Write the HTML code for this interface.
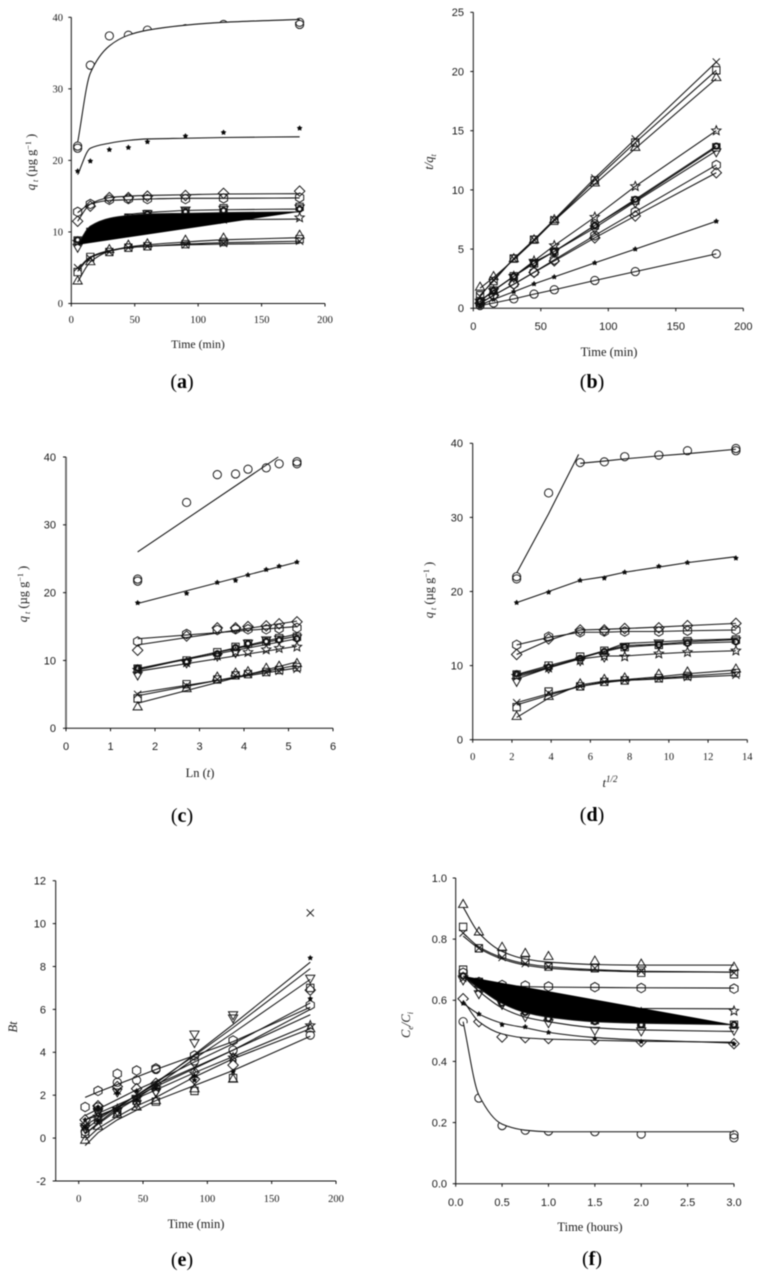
<!DOCTYPE html>
<html lang="en">
<head>
<meta charset="utf-8">
<title>Adsorption kinetics charts</title>
<style>
html,body{margin:0;padding:0;background:#fff;}
body{width:761px;height:1276px;overflow:hidden;}
svg{display:block;filter:blur(0.4px);}
text{fill:#1a1a1a;font-family:"Liberation Serif",serif;}
.sans{font-family:"Liberation Sans",sans-serif;}
.title{font-size:12.5px;}
.title-small{font-size:11.8px;}
.cap{font-size:20px;fill:#000;}
</style>
</head>
<body>
<svg id="figure" xmlns="http://www.w3.org/2000/svg" width="761" height="1276" viewBox="0 0 761 1276">
  <g>
    <text class="title-small" x="198" y="348" text-anchor="middle">Time (min)</text>
    <text class="title" transform="translate(35,162) rotate(-90)" text-anchor="middle"><tspan font-style="italic">q</tspan><tspan dy="3" font-size="8" font-style="italic"> t</tspan><tspan dy="-3"> (µg g</tspan><tspan dy="-4" font-size="8">−1</tspan><tspan dy="4"> )</tspan></text>
    <text class="cap" x="182" y="388" text-anchor="middle">(<tspan font-weight="bold">a</tspan>)</text>
  </g>
  <g>
    <text class="title" x="609" y="356" text-anchor="middle">Time (min)</text>
    <text class="title" transform="translate(433,162) rotate(-90)" text-anchor="middle"><tspan font-style="italic">t/q</tspan><tspan dy="3" font-size="8" font-style="italic">t</tspan></text>
    <text class="cap" x="592" y="388" text-anchor="middle">(<tspan font-weight="bold">b</tspan>)</text>
  </g>
  <g>
    <text class="title" x="200" y="777" text-anchor="middle">Ln (<tspan font-style="italic">t</tspan>)</text>
    <text class="title" transform="translate(27,594) rotate(-90)" text-anchor="middle"><tspan font-style="italic">q</tspan><tspan dy="3" font-size="8" font-style="italic"> t</tspan><tspan dy="-3"> (µg g</tspan><tspan dy="-4" font-size="8">−1</tspan><tspan dy="4"> )</tspan></text>
    <text class="cap" x="182" y="822" text-anchor="middle">(<tspan font-weight="bold">c</tspan>)</text>
  </g>
  <g>
    <text class="title" x="610" y="787" text-anchor="middle"><tspan font-style="italic">t</tspan><tspan dy="-5" font-size="9" font-style="italic">1/2</tspan></text>
    <text class="title" transform="translate(433,590) rotate(-90)" text-anchor="middle"><tspan font-style="italic">q</tspan><tspan dy="3" font-size="8" font-style="italic"> t</tspan><tspan dy="-3"> (µg g</tspan><tspan dy="-4" font-size="8">−1</tspan><tspan dy="4"> )</tspan></text>
    <text class="cap" x="592" y="821" text-anchor="middle">(<tspan font-weight="bold">d</tspan>)</text>
  </g>
  <g>
    <text class="title" x="196" y="1228" text-anchor="middle">Time (min)</text>
    <text class="title" transform="translate(17,1027) rotate(-90)" text-anchor="middle" font-style="italic">Bt</text>
    <text class="cap" x="182" y="1266" text-anchor="middle">(<tspan font-weight="bold">e</tspan>)</text>
  </g>
  <g>
    <text class="title" x="590" y="1231" text-anchor="middle">Time (hours)</text>
    <text class="title" transform="translate(410,1025) rotate(-90)" text-anchor="middle"><tspan font-style="italic">C</tspan><tspan dy="3" font-size="8" font-style="italic">e</tspan><tspan dy="-3" font-style="italic">/C</tspan><tspan dy="3" font-size="8" font-style="italic">i</tspan></text>
    <text class="cap" x="592" y="1265" text-anchor="middle">(<tspan font-weight="bold">f</tspan>)</text>
  </g>
</svg>
<script>
// x values
const timeMin = [5, 15, 30, 45, 60, 90, 120, 180];
const lnTime = [1.61, 2.71, 3.4, 3.81, 4.09, 4.5, 4.79, 5.19];
const sqrtTime = [2.24, 3.87, 5.48, 6.71, 7.75, 9.49, 10.95, 13.42];
const timeHours = [0.08, 0.25, 0.5, 0.75, 1, 1.5, 2, 3];

// tick labels
const minTicks = ['0', '50', '100', '150', '200'];
const qTicks = ['0', '10', '20', '30', '40'];
const bYTicks = ['0', '5', '10', '15', '20', '25'];
const cXTicks = ['0', '1', '2', '3', '4', '5', '6'];
const dXTicks = ['0', '2', '4', '6', '8', '10', '12', '14'];
const eYTicks = ['-2', '0', '2', '4', '6', '8', '10', '12'];
const fXTicks = ['0.0', '0.5', '1.0', '1.5', '2.0', '2.5', '3.0'];
const fYTicks = ['0.0', '0.2', '0.4', '0.6', '0.8', '1.0'];

// adsorbed amount q (panels a, c, d)
const qCircleA = [22, 33.3, 37.4, 37.5, 38.2, 38.4, 39, 39.3];
const qCircleB = [21.7, null, null, null, null, null, null, 39];
const qPlus = [18.5, 19.9, 21.5, 21.8, 22.6, 23.4, 23.9, 24.5];
const qDiamond = [11.5, 13.6, 14.8, 14.8, 15, 15.1, 15.4, 15.7];
const qHexagon = [12.8, 13.9, 14.5, 14.6, 14.6, 14.6, 14.7, 14.8];
const qDown = [8, 9.8, 10.8, 11.3, 12.7, 13.2, 13.3, 13.5];
const qSquareUpper = [8.8, 10, 11.2, 12, 12.5, 12.8, 13.3, 13.5];
const qRing = [8.9, 9.8, 11, 11.9, 12.5, 12.8, 13, 13.2];
const qStar = [8.6, 9.7, 10.7, 11.3, 11.2, 11.6, 11.8, 12];
const qTriangle = [3, 5.7, 7.4, 8, 8.2, 8.7, 9, 9.4];
const qSquareLower = [4.4, 6.5, 7.2, 7.8, 8, 8.3, 8.6, 9];
const qCross = [5, 6.3, 7.2, 7.8, 8, 8.2, 8.4, 8.7];

// panel a fits
const aFitCircle = [22.5, 32.2, 36, 37.5, 38.2, 38.9, 39.3, 39.7];
const aFitPlus = [18, 21.7, 22.4, 22.8, 23, 23.1, 23.2, 23.3];
const aFitDiamond = [11.5, 13.9, 14.8, 15, 15.1, 15.2, 15.3, 15.35];
const aFitHexagon = [12.7, 13.9, 14.4, 14.5, 14.6, 14.7, 14.7, 14.75];
const aFitDownX = [42, 60, 90, 120, 180];
const aFitDown = [12.4, 12.7, 13, 13.1, 13.2];
const aFitRing = [8.2, 10.8, 11.9, 12.3, 12.5, 12.6, 12.7, 12.8];
const aFitStar = [8.5, 10.2, 11, 11.3, 11.45, 11.6, 11.7, 11.8];
const aFitTriangle = [3, 5.8, 7.3, 7.9, 8.2, 8.6, 8.9, 9.2];
const aFitSquare = [4.5, 6.4, 7.3, 7.8, 8, 8.3, 8.5, 8.7];
const aFitCross = [4.8, 6.5, 7.4, 7.8, 8, 8.2, 8.3, 8.4];

// panel b t/q values
const bCross = [1, 2.4, 4.2, 5.8, 7.5, 11, 14.3, 20.8];
const bSquare = [1.1, 2.3, 4.2, 5.8, 7.4, 10.8, 14, 20.1];
const bTriangle = [1.7, 2.6, 4.1, 5.7, 7.4, 10.5, 13.5, 19.4];
const bStar = [0.6, 1.5, 2.7, 4, 5.3, 7.7, 10.3, 15];
const bDown = [0.6, 1.5, 2.7, 3.9, 4.8, 6.8, 9, 13.3];
const bSquareUpper = [0.6, 1.5, 2.7, 3.8, 4.8, 7, 9.1, 13.6];
const bRing = [0.6, 1.5, 2.7, 3.8, 4.8, 7, 9.2, 13.7];
const bHexagon = [0.4, 1.1, 2.05, 3.05, 4.1, 6.15, 8.15, 12.1];
const bDiamond = [0.43, 1.1, 2.03, 3.03, 4, 5.95, 7.8, 11.45];
const bPlus = [0.27, 0.75, 1.4, 2.06, 2.65, 3.84, 5, 7.35];
const bCircle = [0.23, 0.45, 0.8, 1.2, 1.57, 2.35, 3.1, 4.6];

// panel c straight-line fits (x endpoints and y endpoints)
const cFitX = [1.61, 5.19];
const cFitCircleX = [1.61, 4.77];
const cFitCircle = [26, 40];
const cFitPlus = [18.4, 24.5];
const cFitDiamond = [12.3, 15.8];
const cFitHexagon = [13.2, 15];
const cFitDown = [8.6, 13.9];
const cFitSquareUpper = [8.8, 13.6];
const cFitRing = [8.8, 13.2];
const cFitStar = [8.4, 12.1];
const cFitTriangle = [3.7, 9.8];
const cFitSquareLower = [4.8, 9.3];
const cFitCross = [5.2, 8.9];

// panel d piecewise fits
const dRiseX = [2.24, 3.87, 5.4];
const dRiseCircle = [22.5, 30.5, 38.5];
const dFlatX = [5.48, 6.71, 7.75, 9.49, 10.95, 13.42];
const dFlatCircle = [37.3, 37.6, 37.9, 38.3, 38.6, 39.2];
const dFitPlus = [18.5, 20, 21.5, 22, 22.6, 23.3, 23.9, 24.7];
const dFitDiamond = [11.5, 13.4, 14.8, 14.9, 15, 15.2, 15.4, 15.7];
const dFitHexagon = [12.8, 13.8, 14.5, 14.5, 14.6, 14.6, 14.7, 14.8];
const dFitDown = [8.2, 9.7, 11, 12, 13, 13.2, 13.4, 13.6];
const dFitSquareUpper = [8.8, 10, 11.1, 12, 12.7, 12.9, 13.2, 13.5];
const dFitRing = [8.7, 9.8, 11, 11.9, 12.5, 12.8, 13, 13.2];
const dFitStar = [8.5, 9.7, 10.9, 11.3, 11.3, 11.6, 11.8, 12];
const dFitTriangle = [3, 5.6, 7.4, 7.9, 8.1, 8.5, 8.9, 9.4];
const dFitSquareLower = [4.7, 6, 7.2, 7.7, 8, 8.3, 8.6, 9];
const dFitCross = [5, 6.2, 7.2, 7.8, 8, 8.2, 8.4, 8.7];

// panel e Bt values
const eCross = [0.5, 1.3, 2.2, 1.8, 2.4, 3.3, 3.8, 10.5];
const ePlus = [0.85, 1.45, 2.1, 2.2, 2.5, 2.7, 3.1, 8.4];
const eDownA = [0.5, 1.25, 2.2, 1.9, 2.2, 4.9, 5.8, 7.5];
const eDownB = [0.5, 1.3, 1.3, 1.65, 2.2, 4.5, 5.65, null];
const eSquare = [0.2, 0.85, 1.2, 1.75, 1.7, 2.2, 2.8, 7];
const eDiamond = [0.85, 1.5, 2.4, 2.3, 2.55, 2.75, 3.4, 6.9];
const eHexagon = [1.45, 2.2, 3, 3.15, 3.25, 3.85, 4.55, 6.2];
const eCircle = [0.3, 1.45, 2.6, 2.7, 3.2, 3.6, 4.1, 4.8];
const eStar = [0.6, 1, 1.35, 1.85, 2.35, 3, 3.75, 5.25];
const eTriangle = [-0.15, 0.5, 1.05, 1.4, 1.7, 2.25, 2.7, 5.05];
const eSmallDot = [0.5, 0.8, 1.3, 1.8, 2.3, 2.9, 3.1, 6.5];
const eFitHexagon = [1.9, 2.15, 2.5, 2.85, 3.2, 3.85, 4.5, 6.1];
const eFitCircle = [1.05, 1.35, 1.8, 2.25, 2.65, 3.55, 4.4, 6.3];
const eFitDiamond = [0.85, 1.15, 1.55, 1.95, 2.4, 3.25, 4.1, 5.75];
const eFitPlus = [0.2, 0.7, 1.4, 2, 2.55, 3.9, 5.3, 8.2];
const eFitCross = [0.4, 0.85, 1.45, 2, 2.6, 3.85, 5.15, 7.9];
const eFitDown = [0.2, 0.65, 1.3, 1.85, 2.45, 3.7, 4.9, 7.4];
const eFitStar = [0.85, 1.05, 1.4, 1.85, 2.25, 3.05, 3.8, 5.3];
const eFitTriangle = [-0.1, 0.45, 1, 1.5, 1.9, 2.85, 3.7, 5.1];
const eFitSquare = [-0.35, 0.25, 0.85, 1.3, 1.75, 2.45, 3.15, 4.75];
const eFitDot = [0.6, 0.95, 1.45, 2, 2.5, 3.3, 4.1, 6];

// panel f Ce/Ci values
const fTriangle = [0.91, 0.82, 0.77, 0.75, 0.74, 0.725, 0.715, 0.705];
const fSquare = [0.84, 0.77, 0.75, 0.73, 0.71, 0.705, 0.69, 0.685];
const fCross = [0.82, 0.77, 0.74, 0.72, 0.71, 0.705, 0.695, 0.69];
const fHexagon = [0.69, 0.66, 0.65, 0.648, 0.645, 0.643, 0.64, 0.638];
const fSquareUpper = [0.7, 0.66, 0.6, 0.57, 0.55, 0.535, 0.525, 0.52];
const fRing = [0.68, 0.65, 0.59, 0.56, 0.54, 0.53, 0.52, 0.52];
const fStar = [0.675, 0.64, 0.6, 0.585, 0.58, 0.57, 0.56, 0.565];
const fDown = [0.67, 0.625, 0.59, 0.55, 0.53, 0.505, 0.503, 0.505];
const fPlus = [0.59, 0.555, 0.52, 0.513, 0.495, 0.475, 0.465, 0.457];
const fDiamond = [0.605, 0.53, 0.48, 0.478, 0.475, 0.472, 0.465, 0.458];
const fCircleA = [0.53, 0.28, 0.19, 0.175, 0.172, 0.17, 0.162, 0.16];
const fCircleB = [null, null, null, null, null, null, null, 0.15];
const fFitTriangle = [0.905, 0.82, 0.76, 0.735, 0.725, 0.717, 0.715, 0.715];
const fFitSquare = [0.82, 0.775, 0.74, 0.72, 0.71, 0.7, 0.695, 0.692];
const fFitCross = [0.81, 0.77, 0.735, 0.715, 0.705, 0.697, 0.693, 0.692];
const fFitHexagon = [0.675, 0.66, 0.65, 0.645, 0.643, 0.642, 0.641, 0.64];
const fFitRing = [0.68, 0.64, 0.59, 0.56, 0.545, 0.53, 0.525, 0.52];
const fFitStar = [0.68, 0.64, 0.605, 0.59, 0.58, 0.575, 0.573, 0.572];
const fFitDown = [0.68, 0.63, 0.575, 0.545, 0.53, 0.51, 0.503, 0.498];
const fFitPlus = [0.59, 0.555, 0.525, 0.51, 0.495, 0.478, 0.47, 0.46];
const fFitDiamond = [0.6, 0.53, 0.49, 0.477, 0.473, 0.469, 0.466, 0.463];
const fFitCircle = [0.53, 0.29, 0.195, 0.175, 0.17, 0.17, 0.17, 0.17];

const NS = 'http://www.w3.org/2000/svg';
const INK = '#111';
const figure = document.getElementById('figure');

function polygonPoints(cx, cy, r, sides, startDeg) {
  const pts = [];
  for (let i = 0; i < sides; i++) {
    const a = (startDeg + i * 360 / sides) * Math.PI / 180;
    pts.push((cx + r * Math.cos(a)).toFixed(2) + ',' + (cy + r * Math.sin(a)).toFixed(2));
  }
  return pts.join(' ');
}

function starPoints(cx, cy, outer, inner) {
  const pts = [];
  for (let i = 0; i < 10; i++) {
    const r = i % 2 ? inner : outer;
    const a = (-90 + i * 36) * Math.PI / 180;
    pts.push((cx + r * Math.cos(a)).toFixed(2) + ',' + (cy + r * Math.sin(a)).toFixed(2));
  }
  return pts.join(' ');
}

function drawMarker(parent, kind, cx, cy, label) {
  let el;
  if (kind === 'circle') {
    el = document.createElementNS(NS, 'circle');
    el.setAttribute('cx', cx);
    el.setAttribute('cy', cy);
    el.setAttribute('r', 4.1);
  } else if (kind === 'ring') {
    el = document.createElementNS(NS, 'circle');
    el.setAttribute('cx', cx);
    el.setAttribute('cy', cy);
    el.setAttribute('r', 2.6);
  } else if (kind === 'cross') {
    el = document.createElementNS(NS, 'path');
    el.setAttribute('d', 'M' + (cx - 3.6) + ' ' + (cy - 3.6) + 'L' + (cx + 3.6) + ' ' + (cy + 3.6) + 'M' + (cx - 3.6) + ' ' + (cy + 3.6) + 'L' + (cx + 3.6) + ' ' + (cy - 3.6));
  } else {
    el = document.createElementNS(NS, 'polygon');
    let pts = '';
    if (kind === 'hexagon') pts = polygonPoints(cx, cy, 4.7, 6, 30);
    if (kind === 'diamond') pts = polygonPoints(cx, cy, 5.2, 4, 0);
    if (kind === 'square') pts = polygonPoints(cx, cy, 5.2, 4, 45);
    if (kind === 'triangle') pts = polygonPoints(cx, cy - 0.7, 5.3, 3, -90);
    if (kind === 'down') pts = polygonPoints(cx, cy + 0.7, 5.3, 3, 90);
    if (kind === 'star') pts = starPoints(cx, cy, 4.9, 2.2);
    if (kind === 'plus') pts = starPoints(cx, cy, 2.1, 1.2);
    el.setAttribute('points', pts);
  }
  
  
  el.setAttribute('stroke', INK);
  el.setAttribute('stroke-width', kind === 'ring' ? 2 : 0.95);
  el.setAttribute('fill', kind === 'plus' ? '#000' : kind === 'ring' ? '#fff' : 'none');
  parent.appendChild(el);
}

function linePath(pts) {
  return pts.map((p, i) => (i ? 'L' : 'M') + p[0].toFixed(2) + ' ' + p[1].toFixed(2)).join('');
}

// Monotone cubic path through fit points so the fit curves stay smooth without overshoot.
function smoothPath(pts) {
  const n = pts.length;
  const d = [];
  const m = [];
  for (let i = 0; i < n - 1; i++) d.push((pts[i + 1][1] - pts[i][1]) / (pts[i + 1][0] - pts[i][0]));
  m.push(d[0]);
  for (let i = 1; i < n - 1; i++) m.push(d[i - 1] * d[i] <= 0 ? 0 : 2 * d[i - 1] * d[i] / (d[i - 1] + d[i]));
  m.push(d[n - 2]);
  let out = 'M' + pts[0][0].toFixed(2) + ' ' + pts[0][1].toFixed(2);
  for (let i = 0; i < n - 1; i++) {
    const h = (pts[i + 1][0] - pts[i][0]) / 3;
    out += 'C' + (pts[i][0] + h).toFixed(2) + ' ' + (pts[i][1] + m[i] * h).toFixed(2) + ' ' + (pts[i + 1][0] - h).toFixed(2) + ' ' + (pts[i + 1][1] - m[i + 1] * h).toFixed(2) + ' ' + pts[i + 1][0].toFixed(2) + ' ' + pts[i + 1][1].toFixed(2);
  }
  return out;
}

function drawFit(group, d, fill, label) {
  if (fill) {
    const area = document.createElementNS(NS, 'path');
    area.setAttribute('d', d + 'Z');
    area.setAttribute('fill', fill);
    area.setAttribute('stroke', 'none');
    
    
    group.appendChild(area);
  }
  const line = document.createElementNS(NS, 'path');
  line.setAttribute('d', d);
  line.setAttribute('fill', 'none');
  line.setAttribute('stroke', INK);
  line.setAttribute('stroke-width', 1.05);
  
  
  group.appendChild(line);
}

function addLine(parent, x1, y1, x2, y2, color, width, label) {
  const l = document.createElementNS(NS, 'line');
  l.setAttribute('x1', x1);
  l.setAttribute('y1', y1);
  l.setAttribute('x2', x2);
  l.setAttribute('y2', y2);
  l.setAttribute('stroke', color);
  l.setAttribute('stroke-width', width);
  
  
  parent.appendChild(l);
}

function addTickLabel(parent, x, y, str, anchor, font, size, label) {
  const t = document.createElementNS(NS, 'text');
  t.setAttribute('x', x);
  t.setAttribute('y', y);
  t.setAttribute('text-anchor', anchor);
  t.setAttribute('font-size', size);
  if (font === 'sans') t.setAttribute('class', 'sans');
  
  
  t.textContent = str;
  parent.appendChild(t);
}

function drawPanel(cfg) {
  const g = document.createElementNS(NS, 'g');
  
  
  figure.appendChild(g);
  const sx = v => cfg.x0 + v * (cfg.x1 - cfg.x0) / cfg.xMax;
  const sy = v => cfg.y0 + (v - cfg.yMin) * (cfg.y1 - cfg.y0) / (cfg.yMax - cfg.yMin);

  cfg.series.forEach(s => {
    const sg = document.createElementNS(NS, 'g');
    
    
    g.appendChild(sg);
    s.values.forEach((v, i) => {
      if (v === null) return;
      drawMarker(sg, s.marker, sx(cfg.xs[i]), sy(v), 'point-' + cfg.id + '-' + s.name);
    });
    (s.fits || []).forEach(f => {
      const fx = f.x || cfg.xs;
      const pts = f.y.map((v, i) => [sx(fx[i]), sy(v)]);
      drawFit(sg, cfg.smooth ? smoothPath(pts) : linePath(pts), f.fill, 'fit-' + cfg.id + '-' + s.name);
    });
  });

  const left = cfg.axisX === undefined ? cfg.x0 : cfg.axisX;
  addLine(g, left, cfg.y0, left, cfg.y1, cfg.yAxisColor || INK, cfg.yAxisWidth || 1, 'y-axis-' + cfg.id);
  addLine(g, left, cfg.y0, cfg.x1, cfg.y0, INK, 1, 'x-axis-' + cfg.id);
  cfg.xTicks.forEach(lbl => {
    const x = sx(Number(lbl));
    addLine(g, x, cfg.y0, x, cfg.y0 + 3, INK, 1, 'x-tick-' + cfg.id);
    addTickLabel(g, x, cfg.xLabelY, lbl, 'middle', cfg.xFont, cfg.xSize, 'x-tick-label-' + cfg.id);
  });
  cfg.yTicks.forEach(lbl => {
    const y = sy(Number(lbl));
    addLine(g, left - 3, y, left, y, INK, 1, 'y-tick-' + cfg.id);
    addTickLabel(g, cfg.yLabelX, y + cfg.ySize * 0.35, lbl, 'end', cfg.yFont, cfg.ySize, 'y-tick-label-' + cfg.id);
  });
}

drawPanel({
  id: 'a', x0: 71.3, x1: 325, xMax: 200, y0: 303.5, y1: 17.3, yMin: 0, yMax: 40,
  xs: timeMin, smooth: true, xTicks: minTicks, yTicks: qTicks,
  xLabelY: 323, xFont: 'serif', xSize: 10.5, yLabelX: 63, yFont: 'serif', ySize: 10.5,
  series: [
    { name: 'circle-a', marker: 'circle', values: qCircleA, fits: [{ y: aFitCircle, fill: '#fff' }] },
    { name: 'circle-b', marker: 'circle', values: qCircleB },
    { name: 'plus', marker: 'plus', values: qPlus, fits: [{ y: aFitPlus }] },
    { name: 'diamond', marker: 'diamond', values: qDiamond, fits: [{ y: aFitDiamond }] },
    { name: 'hexagon', marker: 'hexagon', values: qHexagon, fits: [{ y: aFitHexagon }] },
    { name: 'star', marker: 'star', values: qStar, fits: [{ y: aFitStar }] },
    { name: 'down-triangle', marker: 'down', values: qDown, fits: [{ x: aFitDownX, y: aFitDown }] },
    { name: 'square-upper', marker: 'square', values: qSquareUpper },
    { name: 'triangle', marker: 'triangle', values: qTriangle, fits: [{ y: aFitTriangle }] },
    { name: 'square-lower', marker: 'square', values: qSquareLower, fits: [{ y: aFitSquare }] },
    { name: 'cross', marker: 'cross', values: qCross, fits: [{ y: aFitCross }] },
    { name: 'ring', marker: 'ring', values: qRing, fits: [{ y: aFitRing, fill: '#000' }] }
  ]
});

drawPanel({
  id: 'b', x0: 473.3, x1: 743.3, xMax: 200, y0: 308.3, y1: 12.3, yMin: 0, yMax: 25,
  xs: timeMin, smooth: false, xTicks: minTicks, yTicks: bYTicks,
  xLabelY: 330, xFont: 'sans', xSize: 11, yLabelX: 464, yFont: 'sans', ySize: 11,
  series: [
    { name: 'cross', marker: 'cross', values: bCross, fits: [{ y: bCross }] },
    { name: 'square', marker: 'square', values: bSquare, fits: [{ y: bSquare }] },
    { name: 'triangle', marker: 'triangle', values: bTriangle, fits: [{ y: bTriangle }] },
    { name: 'star', marker: 'star', values: bStar, fits: [{ y: bStar }] },
    { name: 'down-triangle', marker: 'down', values: bDown, fits: [{ y: bDown }] },
    { name: 'square-upper', marker: 'square', values: bSquareUpper, fits: [{ y: bSquareUpper }] },
    { name: 'ring', marker: 'ring', values: bRing, fits: [{ y: bRing }] },
    { name: 'hexagon', marker: 'hexagon', values: bHexagon, fits: [{ y: bHexagon }] },
    { name: 'diamond', marker: 'diamond', values: bDiamond, fits: [{ y: bDiamond }] },
    { name: 'plus', marker: 'plus', values: bPlus, fits: [{ y: bPlus }] },
    { name: 'circle', marker: 'circle', values: bCircle, fits: [{ y: bCircle }] }
  ]
});

drawPanel({
  id: 'c', x0: 66, x1: 333, xMax: 6, y0: 728.3, y1: 457, yMin: 0, yMax: 40,
  xs: lnTime, smooth: false, xTicks: cXTicks, yTicks: qTicks, yAxisColor: '#777', yAxisWidth: 2,
  xLabelY: 750, xFont: 'sans', xSize: 11, yLabelX: 56, yFont: 'sans', ySize: 11,
  series: [
    { name: 'circle-a', marker: 'circle', values: qCircleA, fits: [{ x: cFitCircleX, y: cFitCircle }] },
    { name: 'circle-b', marker: 'circle', values: qCircleB },
    { name: 'plus', marker: 'plus', values: qPlus, fits: [{ x: cFitX, y: cFitPlus }] },
    { name: 'diamond', marker: 'diamond', values: qDiamond, fits: [{ x: cFitX, y: cFitDiamond }] },
    { name: 'hexagon', marker: 'hexagon', values: qHexagon, fits: [{ x: cFitX, y: cFitHexagon }] },
    { name: 'down-triangle', marker: 'down', values: qDown, fits: [{ x: cFitX, y: cFitDown }] },
    { name: 'square-upper', marker: 'square', values: qSquareUpper, fits: [{ x: cFitX, y: cFitSquareUpper }] },
    { name: 'ring', marker: 'ring', values: qRing, fits: [{ x: cFitX, y: cFitRing }] },
    { name: 'star', marker: 'star', values: qStar, fits: [{ x: cFitX, y: cFitStar }] },
    { name: 'triangle', marker: 'triangle', values: qTriangle, fits: [{ x: cFitX, y: cFitTriangle }] },
    { name: 'square-lower', marker: 'square', values: qSquareLower, fits: [{ x: cFitX, y: cFitSquareLower }] },
    { name: 'cross', marker: 'cross', values: qCross, fits: [{ x: cFitX, y: cFitCross }] }
  ]
});

drawPanel({
  id: 'd', x0: 472.7, x1: 747.3, xMax: 14, y0: 739.7, y1: 443.3, yMin: 0, yMax: 40,
  xs: sqrtTime, smooth: false, xTicks: dXTicks, yTicks: qTicks,
  xLabelY: 760, xFont: 'serif', xSize: 10.5, yLabelX: 463, yFont: 'sans', ySize: 11,
  series: [
    { name: 'circle-a', marker: 'circle', values: qCircleA, fits: [{ x: dRiseX, y: dRiseCircle }, { x: dFlatX, y: dFlatCircle }] },
    { name: 'circle-b', marker: 'circle', values: qCircleB },
    { name: 'plus', marker: 'plus', values: qPlus, fits: [{ y: dFitPlus }] },
    { name: 'diamond', marker: 'diamond', values: qDiamond, fits: [{ y: dFitDiamond }] },
    { name: 'hexagon', marker: 'hexagon', values: qHexagon, fits: [{ y: dFitHexagon }] },
    { name: 'down-triangle', marker: 'down', values: qDown, fits: [{ y: dFitDown }] },
    { name: 'square-upper', marker: 'square', values: qSquareUpper, fits: [{ y: dFitSquareUpper }] },
    { name: 'ring', marker: 'ring', values: qRing, fits: [{ y: dFitRing }] },
    { name: 'star', marker: 'star', values: qStar, fits: [{ y: dFitStar }] },
    { name: 'triangle', marker: 'triangle', values: qTriangle, fits: [{ y: dFitTriangle }] },
    { name: 'square-lower', marker: 'square', values: qSquareLower, fits: [{ y: dFitSquareLower }] },
    { name: 'cross', marker: 'cross', values: qCross, fits: [{ y: dFitCross }] }
  ]
});

drawPanel({
  id: 'e', x0: 78.7, x1: 336, xMax: 200, axisX: 55.7, y0: 1181, y1: 880.7, yMin: -2, yMax: 12,
  xs: timeMin, smooth: false, xTicks: minTicks, yTicks: eYTicks,
  xLabelY: 1202, xFont: 'serif', xSize: 10.5, yLabelX: 46, yFont: 'sans', ySize: 11,
  series: [
    { name: 'cross', marker: 'cross', values: eCross, fits: [{ y: eFitCross }] },
    { name: 'plus', marker: 'plus', values: ePlus, fits: [{ y: eFitPlus }] },
    { name: 'down-triangle-a', marker: 'down', values: eDownA, fits: [{ y: eFitDown }] },
    { name: 'down-triangle-b', marker: 'down', values: eDownB },
    { name: 'square', marker: 'square', values: eSquare, fits: [{ y: eFitSquare }] },
    { name: 'diamond', marker: 'diamond', values: eDiamond, fits: [{ y: eFitDiamond }] },
    { name: 'hexagon', marker: 'hexagon', values: eHexagon, fits: [{ y: eFitHexagon }] },
    { name: 'circle', marker: 'circle', values: eCircle, fits: [{ y: eFitCircle }] },
    { name: 'star', marker: 'star', values: eStar, fits: [{ y: eFitStar }] },
    { name: 'triangle', marker: 'triangle', values: eTriangle, fits: [{ y: eFitTriangle }] },
    { name: 'small-dot', marker: 'plus', values: eSmallDot, fits: [{ y: eFitDot }] }
  ]
});

drawPanel({
  id: 'f', x0: 455.7, x1: 734, xMax: 3, y0: 1183.7, y1: 878, yMin: 0, yMax: 1,
  xs: timeHours, smooth: true, xTicks: fXTicks, yTicks: fYTicks,
  xLabelY: 1206, xFont: 'sans', xSize: 11, yLabelX: 447, yFont: 'sans', ySize: 11,
  series: [
    { name: 'circle-a', marker: 'circle', values: fCircleA, fits: [{ y: fFitCircle, fill: '#fff' }] },
    { name: 'circle-b', marker: 'circle', values: fCircleB },
    { name: 'diamond', marker: 'diamond', values: fDiamond, fits: [{ y: fFitDiamond, fill: '#fff' }] },
    { name: 'plus', marker: 'plus', values: fPlus, fits: [{ y: fFitPlus }] },
    { name: 'triangle', marker: 'triangle', values: fTriangle, fits: [{ y: fFitTriangle }] },
    { name: 'square', marker: 'square', values: fSquare, fits: [{ y: fFitSquare }] },
    { name: 'cross', marker: 'cross', values: fCross, fits: [{ y: fFitCross }] },
    { name: 'hexagon', marker: 'hexagon', values: fHexagon, fits: [{ y: fFitHexagon }] },
    { name: 'star', marker: 'star', values: fStar, fits: [{ y: fFitStar }] },
    { name: 'down-triangle', marker: 'down', values: fDown, fits: [{ y: fFitDown }] },
    { name: 'square-upper', marker: 'square', values: fSquareUpper },
    { name: 'ring', marker: 'ring', values: fRing, fits: [{ y: fFitRing, fill: '#000' }] }
  ]
});
</script>
</body>
</html>
